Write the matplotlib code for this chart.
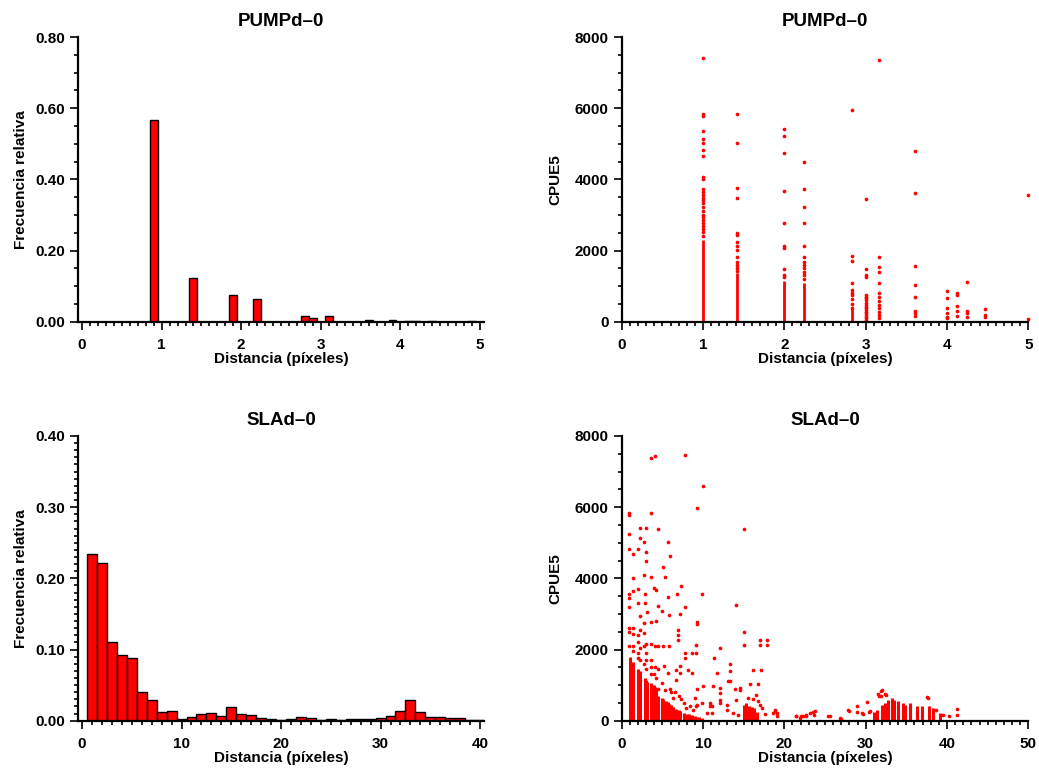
import matplotlib
matplotlib.use("Agg")
import matplotlib.pyplot as plt
from matplotlib.ticker import MultipleLocator, FormatStrFormatter

plt.rcParams['font.family'] = ['Liberation Sans', 'DejaVu Sans']
plt.rcParams['font.weight'] = 'bold'

# --- PUMPd-0 histogram (bin centres, relative frequency) ---
pump_bins = [0.9, 1.4, 1.9, 2.2, 2.8, 2.9, 3.1, 3.6, 3.9, 4.1, 4.2, 4.4, 4.9]
pump_freq = [0.567, 0.124, 0.074, 0.063, 0.015, 0.010, 0.015, 0.006, 0.005, 0.003, 0.003, 0.003, 0.003]

# --- SLAd-0 histogram ---
sla_bins = list(range(1, 41))
sla_freq = [0.234, 0.221, 0.110, 0.092, 0.088, 0.041, 0.029, 0.012, 0.013, 0.0023,
            0.0047, 0.0089, 0.0108, 0.007, 0.0197, 0.0098, 0.0075, 0.0042, 0.0019, 0.0005,
            0.0023, 0.0052, 0.0033, 0.0009, 0.0019, 0.0009, 0.0019, 0.0019, 0.0019, 0.0033,
            0.007, 0.014, 0.0286, 0.0122, 0.0052, 0.0052, 0.0042, 0.0042, 0.0009, 0.0005]

# --- PUMPd-0 scatter: CPUE5 by distance column ---
pump_cols = [1.0, 1.414, 2.0, 2.236, 2.828, 3.0, 3.162, 3.606, 4.0, 4.123, 4.243, 4.472, 5.0]
pump_d1 = [7418, 5836, 5771, 5367, 5134, 5012, 4824, 4665, 4075, 4001, 3728, 3650, 3560,
           3476, 3420, 3326, 3220, 3100, 3000, 2950, 2850, 2760, 2700, 2600, 2520, 2420]
pump_d14 = [5836, 5012, 3765, 3467, 2501, 2436, 2248, 2125, 2013, 1818, 1687, 1600, 1500, 1420]
pump_d2 = [5406, 5218, 4731, 3664, 2773, 2127, 2080, 1481, 1303, 1250]
pump_d22 = [4487, 3728, 3214, 2773, 2135, 1818, 1687, 1594, 1500, 1400, 1300, 1200]
pump_d28 = [5948, 1855, 1705, 1078, 891, 816, 750, 629, 489, 395]
pump_d3 = [3457, 1489, 1312, 1247, 750, 700, 657, 600, 517, 470, 422, 380, 329, 280,
           235, 190, 141, 94, 40]
pump_d32 = [7344, 1818, 1546, 1405, 1096, 816, 694, 582, 469, 375, 281, 188, 94]
pump_d36 = [4805, 3616, 1565, 1040, 685, 309, 235, 160]
pump_d4 = [863, 675, 375, 235, 141, 94]
pump_d41 = [816, 750, 450, 309, 160]
pump_d42 = [1107, 309, 235, 141]
pump_d45 = [366, 188, 141]
pump_d5 = [3551, 85]
pump_vals = [pump_d1, pump_d14, pump_d2, pump_d22, pump_d28, pump_d3, pump_d32,
             pump_d36, pump_d4, pump_d41, pump_d42, pump_d45, pump_d5]
# solid stripes where points overlap completely (top of each stripe)
pump_dense_x = [1.0, 1.414, 2.0, 2.236, 2.828]
pump_dense_top = [2300, 1380, 1150, 1100, 350]

# --- SLAd-0 scatter ---
sla_dense_x = [1.0, 1.41, 2.0, 2.24, 2.83, 3.0, 3.16, 3.61, 4.0, 4.12, 4.24, 4.47, 5.0, 5.10,
               5.39, 5.66, 5.83, 6.0, 6.08, 6.32, 6.71, 7.0, 7.21, 7.62, 8.0, 8.25, 8.60, 9.0,
               9.22, 9.49, 9.85, 15.0, 15.3, 15.6, 16.0, 16.3, 16.6,
               31.0, 31.4, 32.0, 32.4, 32.8, 33.2, 33.5, 34.0, 34.6, 34.8, 35.4, 36.3, 36.9,
               37.8, 38.3, 39.1]
sla_dense_top = [1800, 1650, 1450, 1400, 1200, 1150, 1100, 1050, 1000, 960, 900, 700, 650, 600,
                 560, 520, 480, 450, 420, 380, 330, 300, 260, 230, 200, 180, 150, 130,
                 110, 100, 80, 450, 500, 420, 380, 350, 250,
                 250, 300, 450, 500, 590, 640, 590, 540, 500, 450, 510, 400, 400,
                 400, 350, 220]
sla_x = [0.94, 0.94, 0.94, 0.94, 0.94, 0.94, 0.94, 0.94, 0.94, 0.94,
         1.43, 1.43, 1.43, 1.43, 1.43, 1.43, 1.43,
         1.97, 1.97, 1.97, 1.97, 1.97, 1.97, 1.97,
         2.25, 2.25, 2.25, 2.25, 2.25, 2.25,
         2.74, 2.74, 2.74, 2.74, 2.74, 2.74,
         2.99, 2.99, 2.99, 2.87, 2.87, 3.07, 3.0, 3.0, 3.0, 3.0,
         3.56, 3.56, 3.56, 3.65, 3.6, 3.6, 3.6, 3.6,
         4.1, 4.0, 4.2, 4.2, 4.1, 4.1, 4.0, 4.2,
         4.43, 4.48, 4.5, 4.5, 4.5,
         4.97, 5.12, 5.33, 5.1, 5.2, 5.0, 5.3,
         5.66, 5.66, 5.82, 5.94, 5.8, 5.7, 5.9, 6.0,
         6.76, 6.97, 6.97, 6.97, 6.64, 6.64, 6.5, 6.3,
         7.25, 7.13, 7.13, 7.13, 7.0, 7.3,
         7.78, 7.78, 7.78, 7.78, 7.6, 7.9,
         8.19, 8.6, 8.6, 8.4, 8.8,
         9.1, 9.1, 9.22, 9.22, 9.22, 9.2, 9.0, 9.3, 9.1,
         9.96, 9.87, 9.83, 10.0,
         10.5, 10.9, 10.85, 11.1, 11.1, 11.26, 11.38, 11.67,
         12.09, 12.09, 12.09, 12.09, 12.09, 12.9,
         13.0, 13.1, 13.3, 13.3, 13.3, 13.7, 13.9,
         14.1, 14.1, 14.3, 14.5, 14.5,
         15.04, 15.06, 15.06, 15.8, 16.1, 16.5, 16.7, 17.1,
         15.5, 16.2, 16.8, 17.0, 17.3, 17.6, 15.2, 16.4,
         17.0, 17.0, 17.9, 17.9,
         18.6, 18.9, 18.9, 19.1, 19.1,
         21.4, 21.4, 21.9, 22.0, 22.3, 22.6, 22.7, 23.2, 23.5, 23.6, 23.8,
         25.4, 25.6, 26.9, 27.0, 27.8, 27.9, 28.9, 28.9, 29.6, 29.7, 30.2, 30.4, 30.5,
         31.5, 31.6, 31.9, 31.9, 32.0, 32.4, 32.5, 37.5, 37.7,
         38.6, 39.5, 40.3, 41.2, 41.2]
sla_y = [5850, 5775, 5239, 4817, 3549, 3450, 3202, 2600, 2500, 2100,
         4676, 4020, 3643, 2600, 2450, 2100, 1950,
         4817, 3690, 3315, 2400, 2200, 1900, 1750,
         5428, 5127, 2937, 2562, 2050, 1700,
         5023, 4085, 2750, 2468, 2100, 1600,
         5428, 4732, 4488, 3549, 3315, 3052, 2150, 1900, 1700, 1450,
         7371, 5850, 4040, 2769, 2150, 1700, 1500, 1300,
         7427, 3737, 3662, 2797, 2100, 1500, 1300, 1200,
         5380, 3222, 2100, 1450, 900,
         3080, 4319, 4050, 2100, 1550, 1050, 850,
         5033, 3465, 2958, 4629, 2100, 1350, 900, 800,
         3549, 2543, 2421, 2280, 1436, 1154, 800, 650,
         3784, 3005, 1549, 1344, 700, 600,
         7465, 3202, 1906, 1765, 500, 350,
         1436, 1906, 1344, 400, 300,
         2140, 1906, 5963, 2769, 2703, 900, 650, 450, 400,
         6582, 3549, 498, 967,
         220, 400, 498, 400, 216, 985, 1765, 1344,
         2047, 920, 780, 590, 498, 310,
         450, 1110, 1605, 1390, 1108, 216, 888,
         3239, 592, 170, 873, 920,
         5400, 2498, 2113, 1033, 1436, 723, 1033, 1437,
         650, 600, 550, 450, 350, 200, 150, 100,
         2254, 2131, 2254, 2122,
         216, 310, 280, 216, 122,
         122, 140, 75, 122, 141, 160, 122, 216, 254, 169, 263,
         140, 122, 66, 47, 310, 263, 422, 254, 216, 197, 516, 235, 263,
         752, 685, 845, 704, 854, 752, 732, 667, 638,
         300, 150, 122, 329, 170]

RED = '#ff0000'


def style_axes(ax):
    for side in ('top', 'right'):
        ax.spines[side].set_visible(False)
    for side in ('left', 'bottom'):
        ax.spines[side].set_linewidth(1.6)
    ax.tick_params(which='major', direction='out', length=5.5, width=1.2,
                   labelsize=11, pad=4)
    ax.tick_params(axis='x', which='major', pad=6)
    ax.tick_params(which='minor', direction='out', length=3, width=1.2)
    for lab in ax.get_xticklabels() + ax.get_yticklabels():
        lab.set_fontweight('bold')


fig = plt.figure(figsize=(10.39, 7.68), dpi=100)
ax1 = fig.add_axes([0.0751, 0.5811, 0.3908, 0.3707])
ax2 = fig.add_axes([0.5984, 0.5811, 0.3913, 0.3707])
ax3 = fig.add_axes([0.0751, 0.0616, 0.3908, 0.3707])
ax4 = fig.add_axes([0.5984, 0.0616, 0.3913, 0.3707])

# top-left histogram
ax1.bar(pump_bins, pump_freq, width=0.1, color=RED, edgecolor='black', linewidth=1)
ax1.set_xlim(-0.05, 5.05)
ax1.set_ylim(0, 0.8)
ax1.xaxis.set_major_locator(MultipleLocator(1))
ax1.xaxis.set_minor_locator(MultipleLocator(0.1))
ax1.yaxis.set_major_locator(MultipleLocator(0.2))
ax1.yaxis.set_minor_locator(MultipleLocator(0.05))
ax1.yaxis.set_major_formatter(FormatStrFormatter('%.2f'))
ax1.set_ylabel('Frecuencia relativa', fontsize=11, fontweight='bold', labelpad=5)

# top-right scatter
ax2.vlines(pump_dense_x, 0, pump_dense_top, colors=RED, linewidth=2)
for d, vals in zip(pump_cols, pump_vals):
    ax2.scatter([d] * len(vals), vals, s=7, color=RED, marker='o', linewidths=0, clip_on=False)
ax2.set_xlim(0, 5)
ax2.set_ylim(0, 8000)
ax2.xaxis.set_major_locator(MultipleLocator(1))
ax2.xaxis.set_minor_locator(MultipleLocator(0.1))
ax2.yaxis.set_major_locator(MultipleLocator(2000))
ax2.yaxis.set_minor_locator(MultipleLocator(500))
ax2.set_ylabel('CPUE5', fontsize=11, fontweight='bold', labelpad=9)

# bottom-left histogram
ax3.bar(sla_bins, sla_freq, width=1.0, color=RED, edgecolor='black', linewidth=1)
ax3.set_xlim(-0.4, 40.4)
ax3.set_ylim(0, 0.4)
ax3.xaxis.set_major_locator(MultipleLocator(10))
ax3.xaxis.set_minor_locator(MultipleLocator(1))
ax3.yaxis.set_major_locator(MultipleLocator(0.1))
ax3.yaxis.set_minor_locator(MultipleLocator(0.01))
ax3.yaxis.set_major_formatter(FormatStrFormatter('%.2f'))
ax3.set_ylabel('Frecuencia relativa', fontsize=11, fontweight='bold', labelpad=5)

# bottom-right scatter
ax4.vlines(sla_dense_x, 0, sla_dense_top, colors=RED, linewidth=2.2)
ax4.scatter(sla_x, sla_y, s=7, color=RED, marker='o', linewidths=0, clip_on=False)
ax4.set_xlim(0, 50)
ax4.set_ylim(0, 8000)
ax4.xaxis.set_major_locator(MultipleLocator(10))
ax4.xaxis.set_minor_locator(MultipleLocator(1))
ax4.yaxis.set_major_locator(MultipleLocator(2000))
ax4.yaxis.set_minor_locator(MultipleLocator(500))
ax4.set_ylabel('CPUE5', fontsize=11, fontweight='bold', labelpad=9)

for ax, title in ((ax1, 'PUMPd\u20130'), (ax2, 'PUMPd\u20130'),
                  (ax3, 'SLAd\u20130'), (ax4, 'SLAd\u20130')):
    style_axes(ax)
    ax.set_title(title, fontsize=13.5, fontweight='bold', pad=8)
    ax.set_xlabel('Distancia (p\u00edxeles)', fontsize=11, fontweight='bold', labelpad=0)

fig.savefig('out.png', dpi=100)
